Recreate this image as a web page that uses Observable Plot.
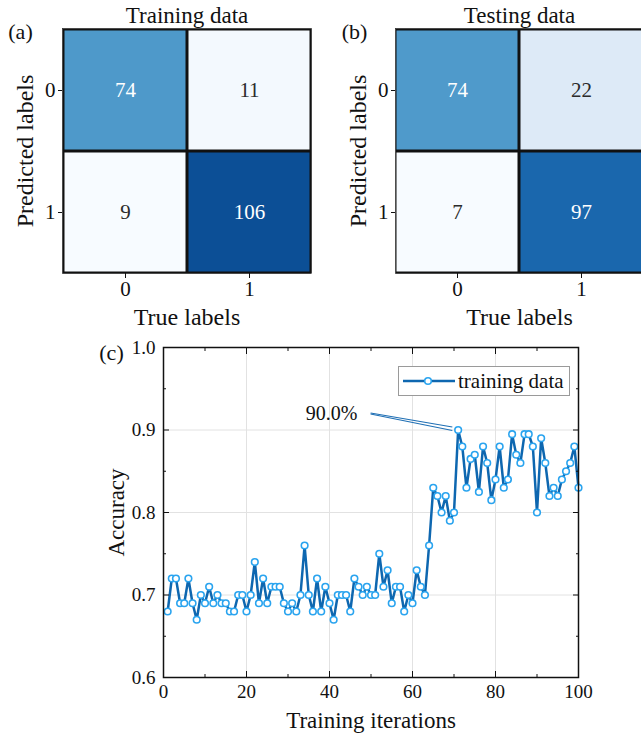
<!DOCTYPE html>
<html><head><meta charset="utf-8">
<script src="https://cdn.jsdelivr.net/npm/d3@7"></script>
<script src="https://cdn.jsdelivr.net/npm/@observablehq/plot@0.6"></script>
<style>
html,body{margin:0;padding:0;background:#fff;overflow:hidden;}
#root{position:relative;width:641px;height:739px;overflow:hidden;font-family:'Liberation Serif','Times New Roman',Times,'DejaVu Serif',serif;}
.panel{position:absolute;}
.panel svg{max-width:none !important;display:block;}
#pa,#pb{width:330px;height:340px;}
#pc{width:641px;height:409px;}
#legend{position:absolute;left:398px;top:366px;width:172px;height:30px;box-sizing:border-box;border:1px solid #9a9a9a;background:#fff;display:flex;align-items:center;font-size:21px;color:#111;}
#legend svg{display:block;margin-left:2px;}
#legend span{margin-left:3px;line-height:1;}
</style></head><body>
<div id="root">
  <div class="panel" id="pa" style="left:0;top:0"></div>
  <div class="panel" id="pb" style="left:330px;top:0"></div>
  <div class="panel" id="pc" style="left:0;top:330px"></div>
  <div id="legend"><svg width="54" height="28"><line x1="2" y1="14" x2="54" y2="14" stroke="#0e67b0" stroke-width="2.5"/><circle cx="27" cy="14" r="3.3" fill="#fff" stroke="#2aa4ef" stroke-width="1.6"/></svg><span>training data</span></div>
</div>
<script>
// ---- data ----
const labels01 = ["0", "1"];
const trainMatrix = [[74, 11], [9, 106]];   // rows: predicted, cols: true
const testMatrix = [[74, 22], [7, 97]];
const accuracy = [
  0.68,0.72,0.72,0.69,0.69,0.72,0.69,0.67,0.70,0.69,
  0.71,0.69,0.70,0.69,0.69,0.68,0.68,0.70,0.70,0.68,
  0.70,0.74,0.69,0.72,0.69,0.71,0.71,0.71,0.69,0.68,
  0.69,0.68,0.70,0.76,0.70,0.68,0.72,0.68,0.71,0.69,
  0.67,0.70,0.70,0.70,0.68,0.72,0.71,0.70,0.71,0.70,
  0.70,0.75,0.71,0.73,0.69,0.71,0.71,0.68,0.70,0.69,
  0.73,0.71,0.70,0.76,0.83,0.82,0.80,0.82,0.79,0.80,
  0.90,0.88,0.83,0.865,0.87,0.825,0.88,0.86,0.815,0.84,
  0.88,0.83,0.84,0.895,0.87,0.86,0.895,0.895,0.88,0.80,
  0.89,0.86,0.82,0.83,0.82,0.84,0.85,0.86,0.88,0.83
];
const xTicks = [0, 20, 40, 60, 80, 100];
const xMinor = [10, 30, 50, 70, 90];
const yTicks = [0.6, 0.7, 0.8, 0.9, 1.0];
const yMinor = [0.65, 0.75, 0.85, 0.95];
const xGrid = [20, 40, 60, 80];
const yGrid = [0.7, 0.8, 0.9];
const annoText = [{x: 46.7, y: 0.92, label: "90.0%"}];
const annoLines = [
  {x1: 49.9, y1: 0.9206, x2: 69.6, y2: 0.9036},
  {x1: 49.9, y1: 0.9194, x2: 69.6, y2: 0.8994}
];

const FONT = "'Liberation Serif', 'Times New Roman', Times, 'DejaVu Serif', serif";

function heatmap(matrix, title, tag, domain, marginLeft, marginRight, tagDx) {
  const cells = [];
  matrix.forEach((row, i) => row.forEach((v, j) => cells.push({pred: labels01[i], truth: labels01[j], value: v})));
  return Plot.plot({
    width: 330, height: 340,
    marginLeft, marginRight, marginTop: 28, marginBottom: 67,
    style: {fontFamily: FONT, background: "transparent", overflow: "visible", color: "#111", maxWidth: "none"},
    x: {domain: labels01, padding: 0},
    y: {domain: labels01, padding: 0},
    color: {type: "linear", scheme: "blues", domain},
    marks: [
      Plot.frame({fill: "#111", stroke: "#111", strokeWidth: 0.5}),
      Plot.cell(cells, {x: "truth", y: "pred", fill: "value", inset: 1.5}),
      Plot.text(cells.filter(d => d.value > 50), {x: "truth", y: "pred", text: d => String(d.value), fill: "white", fontSize: 21, fontFamily: FONT}),
      Plot.text(cells.filter(d => d.value <= 50), {x: "truth", y: "pred", text: d => String(d.value), fill: "#2b2b2b", fontSize: 21, fontFamily: FONT}),
      Plot.axisX({anchor: "bottom", tickSize: 5, tickPadding: 3, fontSize: 21, label: null, fontFamily: FONT}),
      Plot.axisY({anchor: "left", tickSize: 4, tickPadding: 3, fontSize: 21, label: null, fontFamily: FONT}),
      Plot.text([title], {frameAnchor: "top", textAnchor: "middle", lineAnchor: "middle", dy: -13, fontSize: 23, fontFamily: FONT}),
      Plot.text(["True labels"], {frameAnchor: "bottom", textAnchor: "middle", lineAnchor: "middle", dy: 44, fontSize: 24, fontFamily: FONT}),
      Plot.text(["Predicted labels"], {frameAnchor: "left", textAnchor: "middle", lineAnchor: "middle", dx: -37, rotate: -90, fontSize: 24, fontFamily: FONT}),
      Plot.text([tag], {frameAnchor: "top-left", textAnchor: "middle", lineAnchor: "middle", dx: tagDx, dy: 3, fontSize: 22, fontFamily: FONT})
    ]
  });
}

document.getElementById("pa").append(heatmap(trainMatrix, "Training data", "(a)", [9, 119], 62, 19, -42));
document.getElementById("pb").append(heatmap(testMatrix, "Testing data", "(b)", [7, 121], 65, 17, -41));

const series = accuracy.map((a, i) => ({iter: i + 1, acc: a}));
const noText = () => "";
const lineChart = Plot.plot({
  width: 641, height: 409,
  marginLeft: 163, marginRight: 63, marginTop: 17, marginBottom: 62,
  style: {fontFamily: FONT, background: "transparent", overflow: "visible", color: "#111", maxWidth: "none"},
  x: {domain: [0, 100]},
  y: {domain: [0.6, 1.0]},
  marks: [
    Plot.gridX(xGrid, {stroke: "#e2e2e2", strokeOpacity: 1}),
    Plot.gridY(yGrid, {stroke: "#e2e2e2", strokeOpacity: 1}),
    Plot.line(series, {x: "iter", y: "acc", stroke: "#0e67b0", strokeWidth: 2.5}),
    Plot.dot(series, {x: "iter", y: "acc", r: 3.3, fill: "white", stroke: "#2aa4ef", strokeWidth: 1.6}),
    Plot.link(annoLines, {x1: "x1", y1: "y1", x2: "x2", y2: "y2", stroke: "#1f6fb4", strokeWidth: 1.2}),
    Plot.text(annoText, {x: "x", y: "y", text: "label", textAnchor: "end", lineAnchor: "middle", fontSize: 20, fontFamily: FONT}),
    Plot.axisX(xTicks, {anchor: "bottom", tickSize: -6, tickPadding: 13, fontSize: 19, label: null, fontFamily: FONT}),
    Plot.axisX(xMinor, {anchor: "bottom", tickSize: -3, tickFormat: noText, label: null}),
    Plot.axisX(xTicks, {anchor: "top", tickSize: -6, tickFormat: noText, label: null}),
    Plot.axisX(xMinor, {anchor: "top", tickSize: -3, tickFormat: noText, label: null}),
    Plot.axisY(yTicks, {anchor: "left", tickSize: -6, tickPadding: 14, fontSize: 19, tickFormat: d3.format(".1f"), label: null, fontFamily: FONT}),
    Plot.axisY(yMinor, {anchor: "left", tickSize: -3, tickFormat: noText, label: null}),
    Plot.axisY(yTicks, {anchor: "right", tickSize: -6, tickFormat: noText, label: null}),
    Plot.axisY(yMinor, {anchor: "right", tickSize: -3, tickFormat: noText, label: null}),
    Plot.frame({stroke: "#111", strokeWidth: 1.5}),
    Plot.text(["Training iterations"], {frameAnchor: "bottom", textAnchor: "middle", lineAnchor: "middle", dy: 43, fontSize: 23, fontFamily: FONT}),
    Plot.text(["Accuracy"], {frameAnchor: "left", textAnchor: "middle", lineAnchor: "middle", dx: -47, rotate: -90, fontSize: 23, fontFamily: FONT}),
    Plot.text(["(c)"], {frameAnchor: "top-left", textAnchor: "middle", lineAnchor: "middle", dx: -52, dy: 5, fontSize: 22, fontFamily: FONT})
  ]
});
document.getElementById("pc").append(lineChart);
</script>
</body></html>
